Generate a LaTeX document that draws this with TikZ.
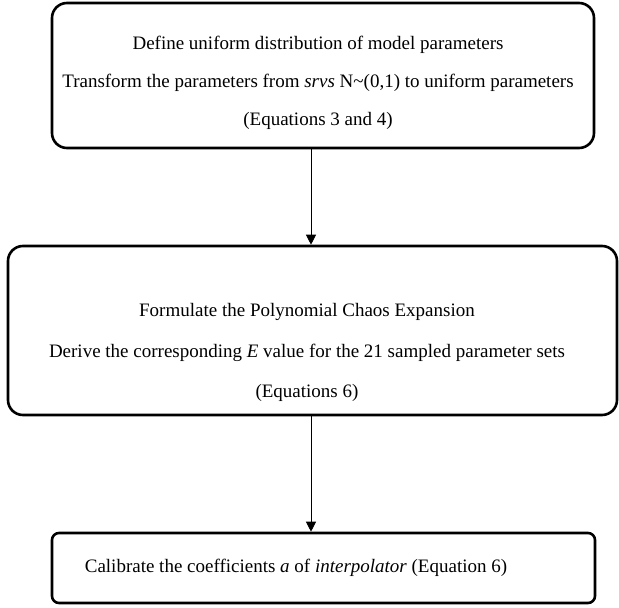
\documentclass[tikz,border=0pt]{standalone}
\usepackage{fontspec}
\setmainfont{Liberation Serif}
\usetikzlibrary{arrows.meta}
\begin{document}
\begin{tikzpicture}[x=1pt,y=-1pt,
    stepbox/.style={draw, line width=2.6pt, rounded corners=15pt, inner sep=0pt},
    steptext/.style={align=center, inner sep=0pt},
    flow/.style={-{Triangle[width=10pt,length=10pt]}, line width=0.9pt}]
            \useasboundingbox (0,0) rectangle (619,608);

            % Boxes
            \node[stepbox, minimum width=542pt, minimum height=145pt] (define) at (323,75.5) {};
            \node[stepbox, minimum width=609pt, minimum height=169pt] (formulate) at (312.5,330.5) {};
            \node[stepbox, rounded corners=7pt, minimum width=543pt, minimum height=70pt] (calibrate) at (323.5,568) {};

            % Texts
            \node[steptext, font=\fontsize{19}{38}\selectfont] (defineText) at (318,83)
                {Define uniform distribution of model parameters\\
                 Transform the parameters from \textit{srvs} N\textasciitilde(0,1) to uniform parameters\\
                 (Equations 3 and 4)};
            \node[steptext, font=\fontsize{19}{40.5}\selectfont] (formulateText) at (307,352.5)
                {Formulate the Polynomial Chaos Expansion\\
                 Derive the corresponding \textit{E} value for the 21 sampled parameter sets\\
                 (Equations 6)};
            \node[steptext, font=\fontsize{19}{38}\selectfont] (calibrateText) at (296,568)
                {Calibrate the coefficients \textit{a} of \textit{interpolator} (Equation 6)};

            % Connections
            \draw[flow] ([xshift=-12pt]define.south) -- ([xshift=-12pt]define.south |- formulate.north);
            \draw[flow] ([xshift=-1.5pt]formulate.south) -- ([xshift=-1.5pt]formulate.south |- calibrate.north);
        \end{tikzpicture}
\end{document}
